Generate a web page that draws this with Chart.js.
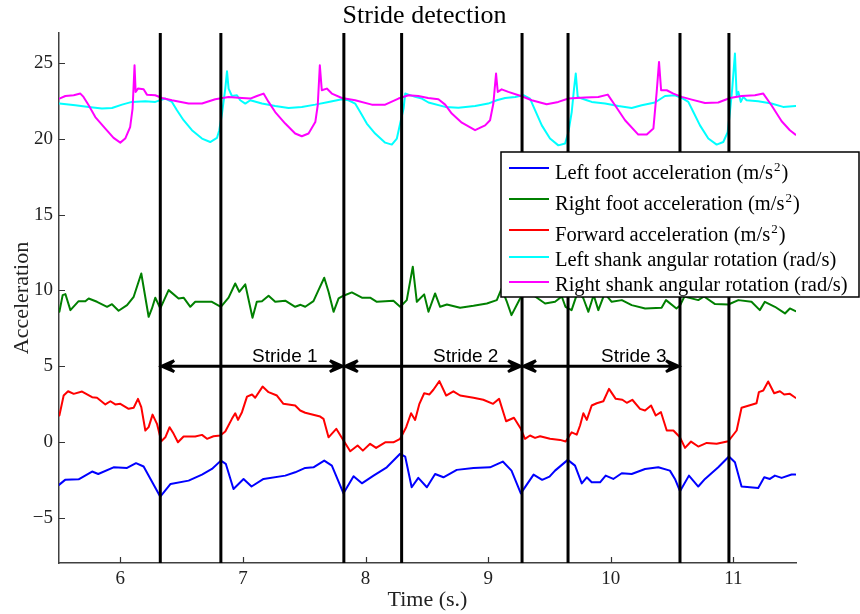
<!DOCTYPE html>
<html>
<head>
<meta charset="utf-8">
<title>Stride detection</title>
<script src="https://cdn.jsdelivr.net/npm/chart.js@4.4.1/dist/chart.umd.min.js"></script>
<style>
  html, body { margin: 0; padding: 0; background: #fff; }
  #wrap { width: 860px; height: 614px; position: relative; }
</style>
</head>
<body>
<div id="wrap"><canvas id="strideChart"></canvas></div>
<script>
// Left foot acceleration (m/s^2)
const leftFootT = [5.50, 5.55, 5.66, 5.77, 5.82, 5.945, 6.055, 6.128, 6.19, 6.326, 6.41, 6.557, 6.666, 6.747, 6.82, 6.86,
  6.923, 7.005, 7.07, 7.168, 7.345, 7.426, 7.508, 7.575, 7.663, 7.725, 7.82, 7.902, 7.97, 8.065, 8.173, 8.282, 8.323,
  8.376, 8.43, 8.50, 8.567, 8.635, 8.744, 8.88, 9.015, 9.119, 9.19, 9.266, 9.37, 9.44, 9.50, 9.545, 9.649, 9.708, 9.763,
  9.804, 9.844, 9.912, 9.958, 10.02, 10.089, 10.17, 10.279, 10.387, 10.482, 10.523, 10.564, 10.637, 10.713, 10.768,
  10.876, 10.963, 11.012, 11.066, 11.202, 11.251, 11.297, 11.338, 11.393, 11.474, 11.506];
const leftFootAcc = [-2.84, -2.51, -2.47, -1.96, -2.12, -1.68, -1.72, -1.41, -1.63, -3.62, -2.78, -2.56, -2.16, -1.79, -1.24, -1.45,
  -3.11, -2.45, -2.95, -2.45, -2.23, -2.01, -1.72, -1.68, -1.24, -1.57, -3.40, -2.27, -2.74, -2.23, -1.68, -0.79, -0.97,
  -3.00, -2.38, -3.00, -2.12, -2.34, -1.85, -1.72, -1.68, -1.30, -1.90, -3.40, -2.16, -2.51, -2.30, -1.90, -1.19, -1.57, -2.74,
  -2.34, -2.67, -2.67, -2.23, -2.45, -2.07, -2.12, -1.79, -1.68, -1.90, -2.45, -3.26, -2.23, -2.95, -2.45,
  -1.68, -0.97, -1.35, -2.95, -3.04, -2.34, -2.45, -2.23, -2.38, -2.16, -2.16];

// Right foot acceleration (m/s^2)
const rightFootT = [5.503, 5.53, 5.552, 5.593, 5.66, 5.715, 5.742, 5.81, 5.892, 5.932, 5.986, 6.055, 6.109, 6.171, 6.231,
  6.258, 6.285, 6.326, 6.394, 6.475, 6.516, 6.571, 6.611, 6.747, 6.82, 6.883, 6.937, 6.97, 7.019, 7.078, 7.113, 7.155,
  7.209, 7.263, 7.345, 7.426, 7.47, 7.508, 7.575, 7.616, 7.663, 7.698, 7.739, 7.78, 7.82, 7.888, 7.97, 8.037, 8.092, 8.227,
  8.282, 8.336, 8.385, 8.418, 8.478, 8.513, 8.567, 8.608, 8.663, 8.771, 8.88, 8.989, 9.07, 9.11, 9.15, 9.19, 9.26, 9.33,
  9.40, 9.464, 9.545, 9.60, 9.63, 9.68, 9.73, 9.775, 9.817, 9.86, 9.898, 9.95, 10.007, 10.09, 10.17, 10.28, 10.414, 10.45,
  10.535, 10.564, 10.60, 10.713, 10.76, 10.85, 10.958, 11.04, 11.147, 11.215, 11.256, 11.338, 11.42, 11.46, 11.506];
const rightFootAcc = [8.59, 9.69, 9.76, 8.70, 9.29, 9.29, 9.47, 9.25, 8.92, 9.09, 8.66, 9.03, 9.58, 11.12, 8.26,
  8.81, 9.52, 8.81, 10.02, 9.47, 9.52, 8.92, 9.25, 9.25, 8.92, 9.52, 10.46, 9.91, 10.40, 8.20, 9.25, 9.29,
  9.65, 9.25, 9.32, 8.92, 9.05, 8.92, 9.29, 10.02, 10.84, 9.91, 8.59, 9.47, 9.65, 9.87, 9.52, 9.52, 9.25, 9.32,
  8.92, 9.36, 11.57, 9.25, 9.74, 8.59, 9.80, 8.92, 9.07, 8.86, 8.99, 9.14, 9.36, 10.13, 9.30, 8.37, 9.47, 9.90,
  9.50, 9.14, 9.25, 9.60, 8.92, 8.70, 9.90, 9.50, 8.59, 9.70, 8.70, 9.80, 9.25, 9.36, 9.03, 8.81, 8.86, 9.36,
  8.81, 9.00, 9.60, 9.36, 9.60, 9.10, 9.07, 9.36, 9.25, 8.70, 9.25, 8.92, 8.48, 8.81, 8.63];

// Forward acceleration (m/s^2)
const forwardT = [5.503, 5.538, 5.574, 5.62, 5.688, 5.77, 5.81, 5.878, 5.919, 5.959, 6.0, 6.068, 6.109, 6.144, 6.171,
  6.204, 6.231, 6.263, 6.299, 6.334, 6.367, 6.402, 6.435, 6.47, 6.516, 6.611, 6.666, 6.707, 6.76, 6.815, 6.856, 6.91,
  6.937, 6.96, 6.992, 7.033, 7.074, 7.10, 7.16, 7.209, 7.277, 7.33, 7.426, 7.467, 7.508, 7.63, 7.657, 7.698, 7.761, 7.82,
  7.875, 7.935, 7.978, 8.037, 8.086, 8.16, 8.227, 8.282, 8.331, 8.371, 8.404, 8.439, 8.478, 8.521, 8.553, 8.602, 8.657,
  8.716, 8.771, 8.88, 8.96, 9.04, 9.089, 9.146, 9.21, 9.266, 9.30, 9.341, 9.382, 9.423, 9.504, 9.586, 9.632, 9.681,
  9.722, 9.749, 9.776, 9.804, 9.844, 9.885, 9.939, 9.985, 10.04, 10.094, 10.13, 10.175, 10.238, 10.279, 10.328, 10.366,
  10.409, 10.456, 10.51, 10.564, 10.605, 10.654, 10.713, 10.782, 10.863, 10.958, 11.026, 11.066, 11.188, 11.207, 11.243,
  11.283, 11.332, 11.379, 11.414, 11.46, 11.506];
const forwardAcc = [1.74, 3.06, 3.34, 3.17, 3.32, 2.95, 2.91, 2.47, 2.68, 2.47, 2.51, 2.18, 2.25, 2.84, 2.29,
  0.75, 0.97, 1.80, 1.19, 0.04, 0.30, 0.97, 0.53, -0.03, 0.35, 0.35, 0.46, 0.20, 0.37, 0.42, 0.68, 1.52,
  1.89, 1.45, 1.96, 2.99, 3.13, 2.91, 3.65, 3.28, 3.06, 2.51, 2.40, 2.07, 1.92, 1.67, 1.52, 0.30, 0.86, 0.09,
  -0.62, -0.24, -0.58, -0.13, -0.40, -0.03, -0.03, 0.20, 0.97, 1.89, 1.45, 2.51, 3.21, 3.13, 3.44, 4.01, 3.06,
  3.34, 3.06, 2.91, 2.78, 2.51, 2.84, 1.36, 1.59, 0.86, 0.20, 0.42, 0.26, 0.37, 0.20, 0.13, 0.02, 0.63,
  0.48, 1.08, 1.89, 1.45, 2.40, 2.55, 2.68, 3.50, 2.84, 2.78, 2.58, 2.78, 2.18, 2.07, 2.40, 1.74,
  1.96, 0.75, 0.75, 0.30, -0.40, 0.02, -0.31, -0.07, -0.13, 0.04, 0.75, 2.25, 2.55, 3.28, 3.39,
  3.99, 3.21, 3.34, 3.13, 3.17, 2.91];

// Left shank angular rotation (rad/s)
const leftShankT = [5.503, 5.633, 5.742, 5.85, 5.932, 6.014, 6.095, 6.204, 6.285, 6.367, 6.421, 6.462, 6.516, 6.584,
  6.666, 6.733, 6.788, 6.807, 6.829, 6.856, 6.87, 6.883, 6.91, 6.951, 6.978, 7.019, 7.06, 7.155, 7.263, 7.372, 7.48,
  7.589, 7.698, 7.807, 7.861, 7.915, 7.956, 8.01, 8.078, 8.16, 8.214, 8.255, 8.282, 8.31, 8.323, 8.35, 8.404, 8.459,
  8.513, 8.649, 8.757, 8.893, 9.0, 9.07, 9.138, 9.22, 9.287, 9.341, 9.382, 9.437, 9.504, 9.572, 9.627, 9.654, 9.681,
  9.70, 9.714, 9.73, 9.763, 9.804, 9.844, 9.953, 10.061, 10.17, 10.252, 10.36, 10.442, 10.523, 10.578, 10.632, 10.673,
  10.727, 10.795, 10.863, 10.917, 10.953, 10.971, 10.99, 11.012, 11.026, 11.04, 11.06, 11.08, 11.107, 11.202, 11.31,
  11.405, 11.506];
const leftShankRot = [22.34, 22.23, 22.12, 22.01, 22.05, 22.27, 22.45, 22.49, 22.45, 22.67, 22.45, 21.90, 21.24, 20.58,
  20.03, 19.80, 20.07, 20.58, 21.68, 23.33, 24.47, 23.33, 22.84, 22.89, 22.56, 22.34, 22.56, 22.34, 22.18, 22.05, 22.12,
  22.27, 22.45, 22.62, 22.56, 22.34, 21.78, 21.02, 20.36, 19.76, 19.63, 20.03, 21.02, 22.01, 23.00, 22.93, 22.78, 22.67,
  22.41, 22.12, 22.07, 22.18, 22.34, 22.56, 22.71, 22.78, 22.89, 22.67, 21.90, 20.90, 20.03, 19.58, 19.70, 20.46, 21.78,
  23.33, 24.32, 22.78, 22.67, 22.56, 22.45, 22.34, 22.18, 22.05, 22.23, 22.41, 22.84, 22.89, 22.71, 22.45, 21.78,
  20.90, 20.03, 19.63, 19.80, 20.46, 21.78, 23.33, 25.64, 22.89, 23.11, 22.45, 22.78, 22.56, 22.49, 22.34,
  22.12, 22.18];

// Right shank angular rotation (rad/s)
const rightShankT = [5.503, 5.552, 5.62, 5.674, 5.70, 5.742, 5.796, 5.878, 5.945, 6.0, 6.04, 6.08, 6.10, 6.11, 6.116,
  6.125, 6.144, 6.19, 6.217, 6.285, 6.34, 6.421, 6.557, 6.666, 6.774, 6.883, 6.992, 7.06, 7.114, 7.168, 7.209, 7.263,
  7.345, 7.426, 7.48, 7.535, 7.59, 7.61, 7.627, 7.643, 7.684, 7.725, 7.807, 7.915, 8.051, 8.16, 8.268, 8.35, 8.43, 8.51,
  8.594, 8.649, 8.703, 8.785, 8.893, 8.975, 9.015, 9.042, 9.064, 9.078, 9.11, 9.164, 9.273, 9.355, 9.477, 9.572, 9.654,
  9.79, 9.898, 9.975, 10.034, 10.116, 10.224, 10.293, 10.347, 10.374, 10.393, 10.41, 10.456, 10.51, 10.578, 10.66,
  10.768, 10.876, 10.971, 11.066, 11.175, 11.243, 11.31, 11.393, 11.46, 11.506];
const rightShankRot = [22.67, 22.84, 22.89, 23.00, 22.78, 22.23, 21.45, 20.69, 20.07, 19.76, 20.03, 20.79, 22.00, 23.77, 24.87,
  23.11, 23.33, 23.28, 22.93, 22.89, 22.71, 22.56, 22.34, 22.34, 22.62, 22.78, 22.71, 22.67, 22.84, 23.00, 22.45, 21.78,
  21.02, 20.36, 20.18, 20.36, 21.12, 22.23, 24.87, 23.22, 23.33, 23.00, 22.71, 22.56, 22.27, 22.27, 22.67, 22.89, 22.84, 22.71,
  22.62, 22.27, 21.68, 21.08, 20.58, 20.90, 21.24, 22.34, 24.32, 23.11, 23.28, 23.11, 22.82, 22.56, 22.29, 22.45, 22.67,
  22.74, 22.78, 22.93, 22.23, 21.24, 20.29, 20.29, 20.69, 23.11, 25.09, 23.22, 23.22, 23.00, 22.78, 22.60,
  22.38, 22.41, 22.71, 22.84, 22.89, 23.00, 22.23, 21.17, 20.58, 20.29];

const xTicks = [6, 7, 8, 9, 10, 11];
const yTicks = [-5, 0, 5, 10, 15, 20, 25];

// detected heel strikes (s)
const strideEvents = [6.326, 6.82, 7.823, 8.294, 9.276, 9.651, 10.564, 10.963];
const strideLabels = ['Stride 1', 'Stride 2', 'Stride 3'];
const strideStart = [6.326, 7.823, 9.276];
const strideEnd = [7.823, 9.276, 10.564];
const strideLevel = 5;

const chartTitle = 'Stride detection';
const serif = "'Liberation Serif', 'Times New Roman', serif";
const sans = "'Liberation Sans', Arial, sans-serif";

function toPoints(t, v) {
  return t.map((x, i) => ({ x: x, y: v[i] }));
}

function arrowHead(ctx, tipX, y, dir) {
  ctx.beginPath();
  ctx.moveTo(tipX, y);
  ctx.lineTo(tipX + dir * 15, y - 5.5);
  ctx.lineTo(tipX + dir * 10, y);
  ctx.lineTo(tipX + dir * 15, y + 5.5);
  ctx.closePath();
  ctx.fill();
  ctx.beginPath();
  ctx.moveTo(tipX + dir * 14, y - 5.5);
  ctx.lineTo(tipX + dir * 1.5, y);
  ctx.lineTo(tipX + dir * 14, y + 5.5);
  ctx.stroke();
}

// title over the plot area, tick marks, stride lines, arrows and the boxed legend
const overlay = {
  id: 'overlay',
  beforeDraw(chart) {
    const { ctx, chartArea: a } = chart;
    ctx.save();
    ctx.font = '26px ' + serif;
    ctx.fillStyle = '#000';
    ctx.textAlign = 'center';
    ctx.textBaseline = 'alphabetic';
    ctx.fillText(chartTitle, (a.left + a.right) / 2 - 3, 23);
    ctx.restore();
  },
  afterDatasetsDraw(chart) {
    const { ctx, chartArea: a, scales: { x, y } } = chart;
    ctx.save();
    ctx.strokeStyle = '#333';
    ctx.lineWidth = 1.2;
    ctx.beginPath();
    xTicks.forEach(v => {
      const px = Math.round(x.getPixelForValue(v)) + 0.5;
      ctx.moveTo(px, a.bottom);
      ctx.lineTo(px, a.bottom - 6);
    });
    yTicks.forEach(v => {
      const py = Math.round(y.getPixelForValue(v)) + 0.5;
      ctx.moveTo(a.left, py);
      ctx.lineTo(a.left + 6, py);
    });
    ctx.stroke();

    ctx.strokeStyle = '#000';
    ctx.fillStyle = '#000';
    ctx.lineWidth = 3;
    ctx.beginPath();
    strideEvents.forEach(t => {
      const px = x.getPixelForValue(t);
      ctx.moveTo(px, a.top);
      ctx.lineTo(px, a.bottom);
    });
    ctx.stroke();

    const py = y.getPixelForValue(strideLevel);
    ctx.lineJoin = 'miter';
    strideLabels.forEach((label, i) => {
      const x0 = x.getPixelForValue(strideStart[i]);
      const x1 = x.getPixelForValue(strideEnd[i]);
      ctx.lineWidth = 3;
      ctx.beginPath();
      ctx.moveTo(x0 + 4, py);
      ctx.lineTo(x1 - 4, py);
      ctx.stroke();
      arrowHead(ctx, x0, py, 1);
      arrowHead(ctx, x1, py, -1);
      ctx.font = '19px ' + sans;
      ctx.textAlign = 'left';
      ctx.textBaseline = 'alphabetic';
      ctx.fillText(label, x.getPixelForValue((strideStart[i] + strideEnd[i]) / 2), py - 4);
    });
    ctx.restore();
  },
  afterDraw(chart) {
    const ctx = chart.ctx;
    const box = { left: 501, top: 152, right: 859, bottom: 297 };
    const rowY = [168, 199, 230, 257, 282];
    const baseY = [179, 210, 241, 266, 291];
    ctx.save();
    ctx.fillStyle = '#fff';
    ctx.fillRect(box.left, box.top, box.right - box.left, box.bottom - box.top);
    ctx.strokeStyle = '#000';
    ctx.lineWidth = 1.5;
    ctx.strokeRect(box.left, box.top, box.right - box.left, box.bottom - box.top);
    chart.data.datasets.forEach((ds, i) => {
      ctx.strokeStyle = ds.borderColor;
      ctx.lineWidth = 2;
      ctx.beginPath();
      ctx.moveTo(509, rowY[i]);
      ctx.lineTo(549, rowY[i]);
      ctx.stroke();
      const parts = ds.label.split('\u00b2');
      ctx.fillStyle = '#000';
      ctx.textAlign = 'left';
      ctx.textBaseline = 'alphabetic';
      ctx.font = '20.5px ' + serif;
      let tx = 555;
      ctx.fillText(parts[0], tx, baseY[i]);
      tx += ctx.measureText(parts[0]).width;
      if (parts.length > 1) {
        ctx.font = '13px ' + serif;
        ctx.fillText('2', tx + 1, baseY[i] - 8);
        tx += ctx.measureText('2').width + 2;
        ctx.font = '20.5px ' + serif;
        ctx.fillText(parts[1], tx, baseY[i]);
      }
    });
    ctx.restore();
  }
};

const seriesColors = ['#0000ff', '#008000', '#ff0000', '#00ffff', '#ff00ff'];

new Chart(document.getElementById('strideChart'), {
  type: 'line',
  data: {
    datasets: [
      { label: 'Left foot acceleration (m/s\u00b2)', data: toPoints(leftFootT, leftFootAcc), borderColor: seriesColors[0], order: 4 },
      { label: 'Right foot acceleration (m/s\u00b2)', data: toPoints(rightFootT, rightFootAcc), borderColor: seriesColors[1], order: 3 },
      { label: 'Forward acceleration (m/s\u00b2)', data: toPoints(forwardT, forwardAcc), borderColor: seriesColors[2], order: 2 },
      { label: 'Left shank angular rotation (rad/s)', data: toPoints(leftShankT, leftShankRot), borderColor: seriesColors[3], order: 1 },
      { label: 'Right shank angular rotation (rad/s)', data: toPoints(rightShankT, rightShankRot), borderColor: seriesColors[4], order: 0 }
    ]
  },
  options: {
    responsive: true,
    maintainAspectRatio: false,
    animation: false,
    layout: { padding: { left: 0, right: 64, top: 33, bottom: 0 } },
    elements: {
      point: { radius: 0 },
      line: { borderWidth: 2, tension: 0, fill: false, borderJoinStyle: 'round', borderCapStyle: 'round' }
    },
    plugins: {
      legend: { display: false },
      tooltip: { enabled: false },
      title: { display: false }
    },
    scales: {
      x: {
        type: 'linear',
        min: 5.5,
        max: 11.51,
        afterBuildTicks: s => { s.ticks = xTicks.map(v => ({ value: v })); },
        afterFit: s => { s.height = 51; },
        grid: { display: false, drawTicks: false },
        border: { display: true, color: '#404040', width: 1.5 },
        ticks: { color: '#222', padding: 5, maxRotation: 0, autoSkip: false, font: { family: serif, size: 19 } },
        title: { display: true, text: 'Time (s.)', color: '#222', font: { family: serif, size: 22 }, padding: { top: 0, bottom: 1 } }
      },
      y: {
        type: 'linear',
        min: -8,
        max: 27,
        afterBuildTicks: s => { s.ticks = yTicks.map(v => ({ value: v })); },
        afterFit: s => { s.width = 59; },
        grid: { display: false, drawTicks: false },
        border: { display: true, color: '#404040', width: 1.5 },
        ticks: {
          color: '#222', padding: 6, autoSkip: false, font: { family: serif, size: 19 },
          callback: v => String(v).replace('-', '\u2212')
        },
        title: { display: true, text: 'Acceleration', color: '#222', font: { family: serif, size: 22 }, padding: { top: 9, bottom: 0 } }
      }
    }
  },
  plugins: [overlay]
});
</script>
</body>
</html>
